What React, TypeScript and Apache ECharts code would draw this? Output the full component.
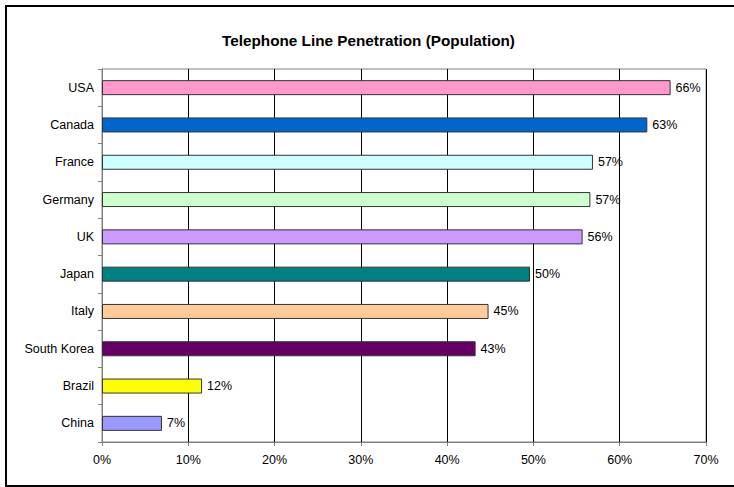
import React, { useEffect, useRef } from "react";
import * as echarts from "echarts";

const countries = ["USA", "Canada", "France", "Germany", "UK", "Japan", "Italy", "South Korea", "Brazil", "China"];
const penetration = [65.9, 63.2, 56.9, 56.6, 55.7, 49.6, 44.8, 43.3, 11.6, 6.95];
const barColors = ["#FF99CC", "#0066CC", "#CCFFFF", "#CCFFCC", "#CC99FF", "#008080", "#FFCC99", "#660066", "#FFFF00", "#9999FF"];
const titleText = "Telephone Line Penetration (Population)";

const FONT = "'Liberation Sans', Arial, sans-serif";

export default function App() {
  const ref = useRef<HTMLDivElement>(null);
  useEffect(() => {
    document.body.style.margin = "0";
    const chart = echarts.init(ref.current!, null, { renderer: "svg" });
    chart.setOption({
      animation: false,
      backgroundColor: "#fff",
      textStyle: { fontFamily: FONT },
      title: {
        text: titleText,
        left: 217,
        top: 28,
        textStyle: { fontSize: 15.3, fontWeight: "bold", color: "#000", fontFamily: FONT },
      },
      graphic: [
        {
          type: "rect",
          shape: { x: 6, y: 6, width: 740, height: 480 },
          style: { fill: "none", stroke: "#000", lineWidth: 2 },
          silent: true,
        },
      ],
      grid: {
        left: 102,
        top: 69,
        width: 604,
        height: 373,
        show: true,
        borderColor: "#808080",
        borderWidth: 1,
        backgroundColor: "transparent",
      },
      xAxis: {
        type: "value",
        min: 0,
        max: 70,
        interval: 10,
        axisLine: { show: true, lineStyle: { color: "#808080" } },
        axisTick: { show: true, length: 4, lineStyle: { color: "#808080" } },
        axisLabel: { formatter: "{value}%", fontSize: 12.5, color: "#000", margin: 11, fontFamily: FONT },
        splitLine: { show: true, lineStyle: { color: "#000", width: 1 } },
      },
      yAxis: {
        type: "category",
        data: countries,
        inverse: true,
        axisLine: { show: true, lineStyle: { color: "#808080" } },
        axisTick: { show: true, length: 4, lineStyle: { color: "#808080" } },
        axisLabel: { fontSize: 12.5, color: "#000", margin: 8, fontFamily: FONT },
        splitLine: { show: false },
      },
      series: [
        {
          type: "bar",
          barWidth: 15,
          data: penetration.map((v, i) => ({
            value: v,
            itemStyle: { color: barColors[i], borderColor: "#333", borderWidth: 1 },
          })),
          label: {
            show: true,
            position: "right",
            distance: 5,
            fontSize: 12.5,
            color: "#000",
            fontFamily: FONT,
            formatter: (p: any) => Math.round(p.value) + "%",
          },
        },
      ],
    });
    return () => chart.dispose();
  }, []);
  return <div ref={ref} style={{ width: 734, height: 487 }} />;
}
